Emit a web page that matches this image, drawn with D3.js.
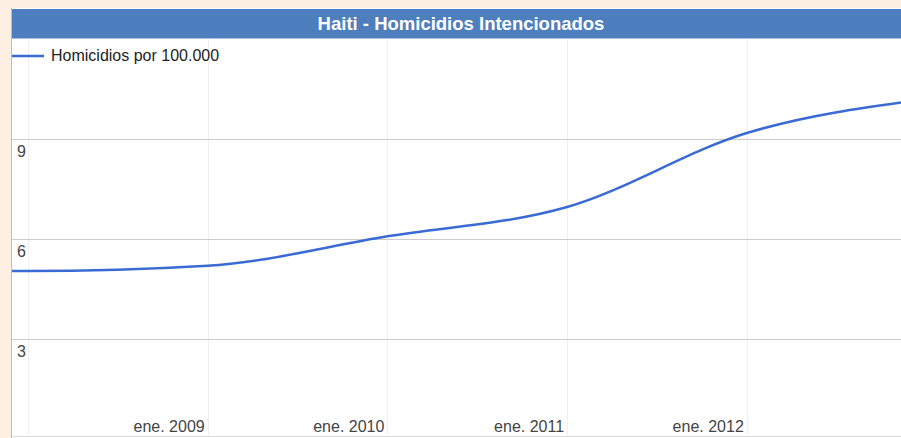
<!DOCTYPE html>
<html>
<head>
<meta charset="utf-8">
<script src="https://cdn.jsdelivr.net/npm/d3@7"></script>
<style>
  html, body { margin: 0; padding: 0; background: #fdf0e2; }
  svg { display: block; font-family: "Liberation Sans", Arial, sans-serif; }
</style>
</head>
<body>
<div id="chart"></div>
<script>
// data (annual values, read at january of each year)
var years = [2007, 2008, 2009, 2010, 2011, 2012, 2013];
var homicidios = [5.1, 5.04, 5.2, 6.08, 6.96, 9.18, 10.2];
var gridYears = [2008, 2009, 2010, 2011, 2012];
var xTickLabels = ["", "ene. 2009", "ene. 2010", "ene. 2011", "ene. 2012"];
var yTicks = [3, 6, 9];

var W = 901, H = 438;
var pLeft = 12, pTop = 39, pRight = 901, pBottom = 437;

var svg = d3.select("#chart").append("svg")
  .attr("width", W).attr("height", H);

// frame + title bar
svg.append("rect").attr("x", 11).attr("y", 8).attr("width", W - 11).attr("height", H - 8)
  .attr("fill", "#ffffff");
svg.append("line").attr("x1", 11.5).attr("x2", 11.5).attr("y1", 8).attr("y2", H)
  .attr("stroke", "#c8b8a8");
svg.append("rect").attr("x", 12).attr("y", 9).attr("width", W - 12).attr("height", 29)
  .attr("fill", "#4d7ebe");
svg.append("line").attr("x1", 12).attr("x2", W).attr("y1", 38.5).attr("y2", 38.5)
  .attr("stroke", "#a9bfdc");
svg.append("text").attr("x", 461).attr("y", 30)
  .attr("text-anchor", "middle").attr("fill", "#ffffff")
  .attr("font-size", 18.5).attr("font-weight", "bold")
  .text("Haiti - Homicidios Intencionados");

var x = d3.scaleTime()
  .domain([new Date(2008, 0, 1), new Date(2013, 0, 1)])
  .range([27.5, 927]);
var y = d3.scaleLinear().domain([0, 12]).range([439, 39]);

// vertical grid
svg.selectAll(".vg").data(gridYears).enter().append("line")
  .attr("x1", function(d) { return Math.round(x(new Date(d, 0, 1))) + 0.5; })
  .attr("x2", function(d) { return Math.round(x(new Date(d, 0, 1))) + 0.5; })
  .attr("y1", pTop).attr("y2", pBottom)
  .attr("stroke", "#f0f0f0");

// horizontal grid
svg.selectAll(".hg").data(yTicks).enter().append("line")
  .attr("x1", pLeft).attr("x2", pRight)
  .attr("y1", function(d) { return Math.round(y(d)) + 0.5; })
  .attr("y2", function(d) { return Math.round(y(d)) + 0.5; })
  .attr("stroke", "#cccccc");

svg.append("line").attr("x1", pLeft).attr("x2", pRight).attr("y1", 436.5).attr("y2", 436.5)
  .attr("stroke", "#dddddd");

// y labels
svg.selectAll(".yl").data(yTicks).enter().append("text")
  .attr("x", 17).attr("y", function(d) { return y(d) + 18; })
  .attr("font-size", 16).attr("fill", "#444")
  .text(function(d) { return d; });

// x labels
svg.selectAll(".xl").data(gridYears).enter().append("text")
  .attr("x", function(d) { return x(new Date(d, 0, 1)) - 3; })
  .attr("y", 432)
  .attr("text-anchor", "end").attr("font-size", 16).attr("fill", "#444")
  .text(function(d, i) { return xTickLabels[i]; });

// line, inside a nested svg that cuts it at the plot edges
var inner = svg.append("svg")
  .attr("x", pLeft).attr("y", pTop)
  .attr("width", pRight - pLeft).attr("height", pBottom - pTop)
  .attr("viewBox", [pLeft, pTop, pRight - pLeft, pBottom - pTop].join(" "));

var pts = years.map(function(yr, i) { return [new Date(yr, 0, 1), homicidios[i]]; });
var line = d3.line()
  .x(function(d) { return x(d[0]); })
  .y(function(d) { return y(d[1]); })
  .curve(d3.curveMonotoneX);

inner.append("path").datum(pts)
  .attr("d", line)
  .attr("fill", "none")
  .attr("stroke", "#3a6bd4")
  .attr("stroke-width", 2.5);

// legend
svg.append("line").attr("x1", 12).attr("x2", 44).attr("y1", 56).attr("y2", 56)
  .attr("stroke", "#3a6bd4").attr("stroke-width", 2.5);
svg.append("text").attr("x", 51).attr("y", 61)
  .attr("font-size", 16).attr("fill", "#222")
  .text("Homicidios por 100.000");
</script>
</body>
</html>
